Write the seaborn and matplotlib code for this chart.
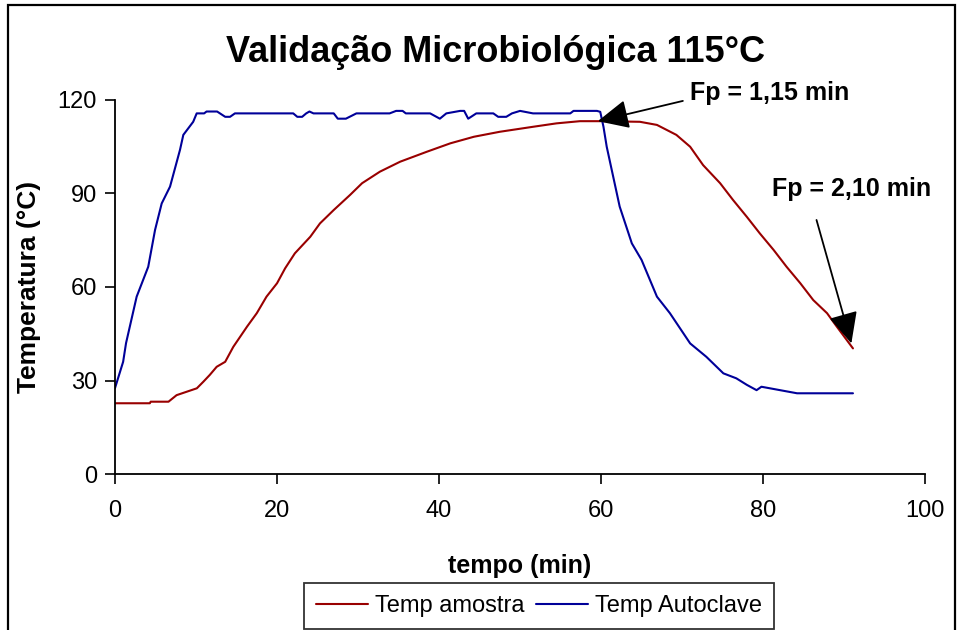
import matplotlib
matplotlib.use("Agg")
import matplotlib.pyplot as plt
import matplotlib.patches as mpatches
import pandas as pd
import seaborn as sns

# Temp amostra (sample)
t_amostra = [0, 4.3, 4.4, 6.6, 7.6, 8.85, 10.1, 10.9, 11.7, 12.55,
             13.6, 14.6, 16.3, 17.5, 18.7, 20, 21, 22.2, 24.1, 25.3,
             27, 29, 30.5, 32.7, 35.2, 38.5, 41.4, 44.3, 47.5, 51.6,
             54.5, 57.4, 60, 64.8, 66.9, 69.3, 71, 72.6, 74.7, 76.3,
             78, 79.6, 81.3, 82.9, 84.6, 86.2, 87.9, 89.1, 91.1]
temp_amostra = [22.7, 22.7, 23.2, 23.2, 25.3, 26.4, 27.5, 29.6, 31.8, 34.4,
                36, 40.8, 47.3, 51.6, 56.9, 61.2, 66, 70.8, 76.1, 80.4,
                84.7, 89.5, 93.3, 97, 100.2, 103.4, 106.1, 108.2, 109.8, 111.4,
                112.5, 113.2, 113.2, 113, 112, 108.8, 105, 99.1, 93.3, 87.9,
                82.5, 77.2, 71.9, 66.5, 61.2, 55.8, 51.6, 47.3, 40.3]

# Temp Autoclave
t_autoclave = [0, 1.0, 1.36, 2.67, 4.1, 4.94, 5.76, 6.79, 8.02, 8.43,
               9.65, 10.08, 11.0, 11.3, 12.6, 13.6, 14.2, 14.8, 22, 22.5,
               23.1, 23.6, 24, 24.5, 27, 27.5, 28.5, 29.8, 33.9, 34.7,
               35.5, 35.9, 38.9, 40.1, 40.9, 42.6, 43.1, 43.6, 44.6, 46.7,
               47.3, 48.3, 49.0, 50, 51.6, 56.2, 56.6, 59.5, 59.9, 60.3,
               60.7, 61.5, 62.3, 63.8, 65, 66.9, 68.5, 71, 73, 75.1,
               76.7, 78, 79.2, 79.8, 82.1, 84.2, 91.1]
temp_autoclave = [27.6, 36, 42, 56.9, 66.5, 78.3, 86.8, 92.2, 104, 108.8,
                  113, 115.7, 115.7, 116.3, 116.3, 114.6, 114.6, 115.7, 115.7, 114.6,
                  114.6, 115.7, 116.3, 115.7, 115.7, 114, 114, 115.7, 115.7, 116.5,
                  116.5, 115.7, 115.7, 114, 115.7, 116.5, 116.5, 114, 115.7, 115.7,
                  114.6, 114.6, 115.7, 116.5, 115.7, 115.7, 116.5, 116.5, 116.2, 111.4,
                  105, 95.4, 85.8, 74, 68.7, 56.9, 51.6, 41.9, 37.6, 32.3,
                  30.7, 28.6, 26.9, 28, 26.9, 25.9, 25.9]

series_names = ["Temp amostra", "Temp Autoclave"]
series_colors = ["#990000", "#000099"]

# Fp annotations: label, label anchor, arrow tail, arrow tip (data units)
fp_labels = ["Fp = 1,15 min", "Fp = 2,10 min"]
fp_text_pos = [(71.0, 118.5), (90.9, 87.6)]
fp_tails = [(70.1, 119.7), (86.6, 81.5)]
fp_tips = [(59.6, 113.2), (90.9, 41.9)]

df = pd.concat([
    pd.DataFrame({"tempo": t_amostra, "temp": temp_amostra, "serie": series_names[0]}),
    pd.DataFrame({"tempo": t_autoclave, "temp": temp_autoclave, "serie": series_names[1]}),
])

sns.set_theme(style="ticks")
plt.rcParams["font.family"] = ["Liberation Sans", "DejaVu Sans"]
plt.rcParams.update({"text.color": "black", "axes.labelcolor": "black",
                     "xtick.color": "black", "ytick.color": "black"})

fig = plt.figure(figsize=(9.61, 6.30), dpi=100)
ax = fig.add_axes([0.1197, 0.2476, 0.8429, 0.5937])

sns.lineplot(
    data=df, x="tempo", y="temp", hue="serie",
    palette=dict(zip(series_names, series_colors)),
    estimator=None, linewidth=1.5, ax=ax, legend=False,
)

ax.set_xlim(0, 100)
ax.set_ylim(0, 120)
ax.set_xticks([0, 20, 40, 60, 80, 100])
ax.set_yticks([0, 30, 60, 90, 120])
ax.tick_params(axis="both", labelsize=17, length=7, width=1.2, direction="out")
ax.tick_params(axis="x", pad=12)
ax.tick_params(axis="y", pad=6)
for side in ["top", "right"]:
    ax.spines[side].set_visible(False)
for side in ["left", "bottom"]:
    ax.spines[side].set_linewidth(1.3)
    ax.spines[side].set_color("black")

ax.set_xlabel("tempo (min)", fontsize=18, fontweight="bold", labelpad=23)
ax.set_ylabel("Temperatura (°C)", fontsize=19, fontweight="bold", labelpad=12)

fig.text(0.516, 0.917, "Validação Microbiológica 115°C", ha="center", va="center",
         fontsize=26, fontweight="bold")

arrow_style = dict(arrowstyle="-|>,head_length=1.6,head_width=0.75",
                   color="black", lw=1.3, shrinkA=0, shrinkB=0)
for tail, tip in zip(fp_tails, fp_tips):
    ax.annotate("", xy=tip, xytext=tail, annotation_clip=False,
                arrowprops=arrow_style)
ax.text(*fp_text_pos[0], fp_labels[0], fontsize=18, fontweight="bold",
        ha="left", va="bottom", clip_on=False)
ax.text(*fp_text_pos[1], fp_labels[1], fontsize=18, fontweight="bold",
        ha="center", va="bottom", clip_on=False)

# legend below the axes
handles = [plt.Line2D([], [], color=c, lw=1.5) for c in series_colors]
leg = fig.legend(handles, series_names, loc="lower center", ncol=2,
                 bbox_to_anchor=(0.561, 0.0), fontsize=17, frameon=True,
                 fancybox=False, handlelength=2.2, handletextpad=0.3,
                 columnspacing=0.5, borderpad=0.5, borderaxespad=0.05)
leg.get_frame().set_edgecolor("black")
leg.get_frame().set_linewidth(1.3)

# outer chart border
fig.patches.append(mpatches.Rectangle((0.0083, -0.02), 0.9855, 1.012,
                                      transform=fig.transFigure, fill=False,
                                      edgecolor="black", linewidth=1.6))

fig.savefig("out.png", dpi=100)
